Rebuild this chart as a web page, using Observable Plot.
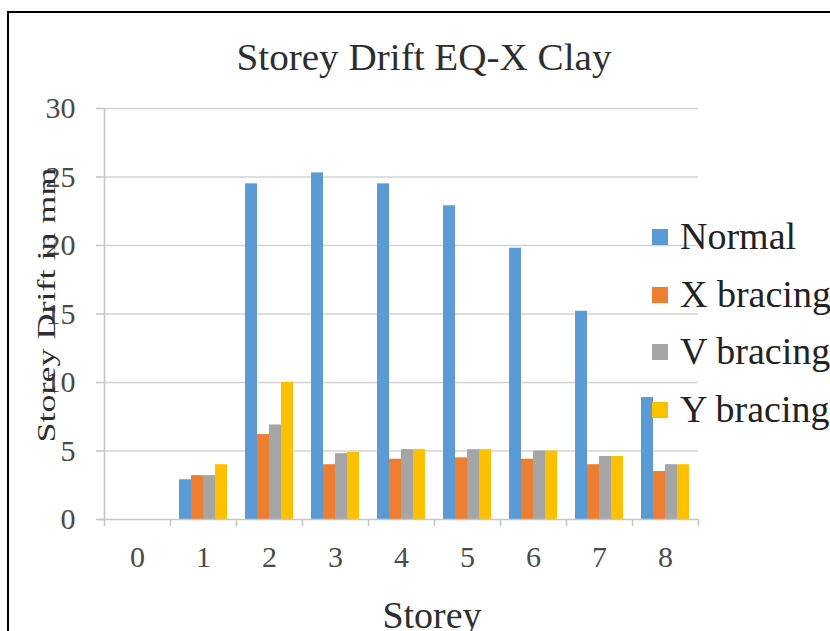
<!DOCTYPE html>
<html>
<head>
<meta charset="utf-8">
<script src="https://cdn.jsdelivr.net/npm/d3@7"></script>
<script src="https://cdn.jsdelivr.net/npm/@observablehq/plot@0.6"></script>
<style>
  html, body { margin: 0; padding: 0; background: #fff; overflow: hidden; }
  #wrap { position: relative; width: 830px; height: 631px; overflow: hidden; background: #fff; }
  #border { position: absolute; left: 7px; top: 11px; width: 1000px; height: 1000px; border: 2px solid #000; pointer-events: none; }
  #chart { position: absolute; left: 0; top: 0; }
</style>
</head>
<body>
<div id="wrap"><div id="chart"></div><div id="border"></div></div>
<script>
// Storey drift (mm) under EQ-X on clay, per storey and bracing type
const storeys = ["0", "1", "2", "3", "4", "5", "6", "7", "8"];
const normal   = [0, 2.9, 24.5, 25.3, 24.5, 22.9, 19.8, 15.2, 8.9];
const xBracing = [0, 3.2, 6.2, 4.0, 4.4, 4.5, 4.4, 4.0, 3.5];
const vBracing = [0, 3.2, 6.9, 4.8, 5.1, 5.1, 5.0, 4.6, 4.0];
const yBracing = [0, 4.0, 10.0, 4.9, 5.1, 5.1, 5.0, 4.6, 4.0];
const seriesNames = ["Normal", "X bracing", "V bracing", "Y bracing"];
const seriesColors = ["#5b9bd5", "#ed7d31", "#a5a5a5", "#ffc000"];
const yTicks = [0, 5, 10, 15, 20, 25, 30];
const titleText = "Storey Drift EQ-X Clay";
const xLabel = "Storey";
const yLabel = "Storey Drift in mm";

const seriesValues = [normal, xBracing, vBracing, yBracing];

const W = 830, H = 631;
const mL = 104, mR = 132, mT = 108, mB = 112;
const bw = (W - mL - mR) / storeys.length;   // width of one storey band
const barW = 12;                              // width of a single bar
const side = (bw - barW * seriesNames.length) / 2;
const axisGrey = "#c6c6c6";
const serif = "'Liberation Serif', 'Times New Roman', Times, serif";

const bars = seriesValues.map((vals, i) =>
  Plot.barY(storeys, {
    x: d => d,
    y: (d, j) => vals[j],
    fill: seriesColors[i],
    insetLeft: side + barW * i,
    insetRight: bw - side - barW * (i + 1)
  })
);

const chart = Plot.plot({
  width: W,
  height: H,
  marginLeft: mL,
  marginRight: mR,
  marginTop: mT,
  marginBottom: mB,
  style: { fontFamily: serif, background: "transparent", overflow: "visible" },
  x: { type: "band", domain: storeys, padding: 0, label: null },
  y: { domain: [0, 30], label: null },
  marks: [
    Plot.ruleY(yTicks.filter(t => t > 0), { stroke: "#d3d3d3", strokeWidth: 1.6 }),
    ...bars,
    // value axis line
    Plot.ruleX([storeys[0]], { x: d => d, dx: -bw / 2, y1: 0, y2: 30, stroke: axisGrey, strokeWidth: 1.6 }),
    // category axis line
    Plot.ruleY([0], { stroke: axisGrey, strokeWidth: 1.6, insetLeft: -5 }),
    // category boundary ticks
    Plot.ruleX(storeys, { x: d => d, dx: -bw / 2, y1: 0, y2: 0, insetBottom: -7, stroke: axisGrey, strokeWidth: 1.6 }),
    Plot.ruleX([storeys[storeys.length - 1]], { x: d => d, dx: bw / 2, y1: 0, y2: 0, insetBottom: -7, stroke: axisGrey, strokeWidth: 1.6 }),
    Plot.axisY({ ticks: yTicks, tickSize: 8, tickPadding: 21, fontSize: 30, fill: "#4a4a4a", stroke: axisGrey, strokeWidth: 1.6, label: null }),
    Plot.axisX({ tickSize: 0, tickPadding: 26, fontSize: 30, fill: "#4a4a4a", label: null })
  ]
});

document.getElementById("chart").appendChild(chart);

// Title, axis titles and legend drawn into the same SVG
const svg = d3.select(chart);

svg.append("text")
  .attr("x", 424).attr("y", 70)
  .attr("text-anchor", "middle")
  .attr("font-family", serif).attr("font-size", 37)
  .attr("fill", "#2e2e2e")
  .attr("textLength", 375).attr("lengthAdjust", "spacingAndGlyphs")
  .text(titleText);

svg.append("text")
  .attr("transform", "translate(46,305) rotate(-90) scale(1,0.72)")
  .attr("text-anchor", "middle")
  .attr("dominant-baseline", "central")
  .attr("font-family", serif).attr("font-size", 36)
  .attr("fill", "#2e2e2e")
  .text(yLabel);

svg.append("text")
  .attr("x", 432).attr("y", 628)
  .attr("text-anchor", "middle")
  .attr("font-family", serif).attr("font-size", 38)
  .attr("fill", "#2e2e2e")
  .text(xLabel);

const legend = svg.append("g").attr("text-anchor", "start");
const rowY = [237, 295, 352, 410];
seriesNames.forEach((name, i) => {
  legend.append("rect")
    .attr("x", 652).attr("y", rowY[i] - 8)
    .attr("width", 16).attr("height", 16)
    .attr("fill", seriesColors[i]);
  legend.append("text")
    .attr("x", 680).attr("y", rowY[i] + 12)
    .attr("text-anchor", "start")
    .attr("font-family", serif).attr("font-size", 38)
    .attr("fill", "#222")
    .text(name);
});
</script>
</body>
</html>
